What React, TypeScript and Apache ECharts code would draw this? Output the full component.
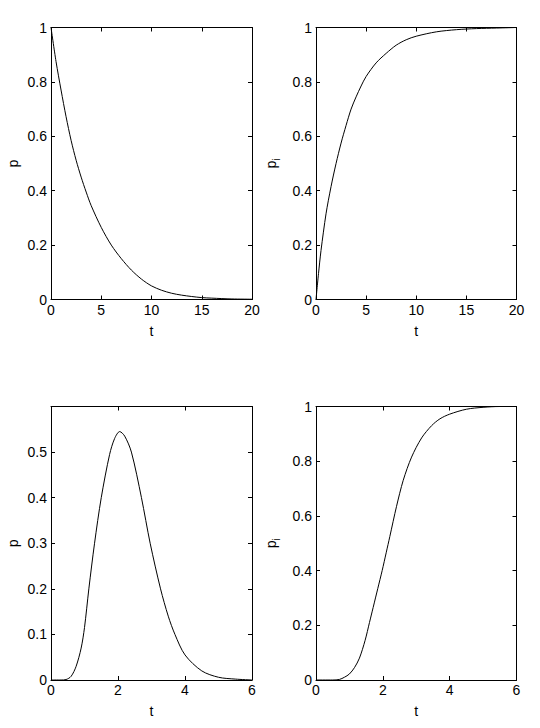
import React, { useEffect, useRef } from "react";
import * as echarts from "echarts";

// Top-left: p vs t (decay)
const TL_T = [0, 0.5, 1, 1.5, 2, 2.5, 3, 3.5, 4, 5, 6, 7, 8, 9, 10, 11, 12, 13, 14, 15, 16, 18, 20];
const TL_P = [1, 0.875, 0.77, 0.672, 0.585, 0.512, 0.45, 0.395, 0.345, 0.265, 0.2, 0.15, 0.108, 0.075, 0.05, 0.034, 0.023, 0.016, 0.011, 0.007, 0.005, 0.002, 0.001];

// Top-right: p_i vs t (rise)
const TR_T = [0, 0.25, 0.5, 1, 1.5, 2, 2.5, 3, 3.5, 4, 4.5, 5, 6, 7, 8, 9, 10, 12, 14, 16, 18, 20];
const TR_P = [0, 0.095, 0.18, 0.315, 0.415, 0.5, 0.575, 0.64, 0.7, 0.745, 0.785, 0.82, 0.87, 0.905, 0.935, 0.955, 0.968, 0.984, 0.992, 0.996, 0.998, 1];

// Bottom-left: p vs t (pulse)
const BL_T = [0, 0.3, 0.45, 0.6, 0.75, 0.9, 1.0, 1.13, 1.3, 1.5, 1.75, 1.9, 2.05, 2.2, 2.4, 2.7, 2.96, 3.27, 3.5, 3.7, 4.0, 4.5, 5.0, 5.5, 6];
const BL_P = [0, 0, 0.001, 0.008, 0.03, 0.07, 0.115, 0.2, 0.3, 0.4, 0.495, 0.53, 0.545, 0.535, 0.5, 0.4, 0.3, 0.2, 0.14, 0.1, 0.055, 0.02, 0.006, 0.002, 0];

// Bottom-right: p_i vs t (sigmoid)
const BR_T = [0, 0.5, 0.7, 0.85, 1.0, 1.15, 1.3, 1.47, 1.6, 1.71, 1.85, 1.98, 2.1, 2.21, 2.41, 2.61, 2.86, 3.16, 3.46, 3.71, 4, 4.5, 5, 5.5, 6];
const BR_P = [0, 0, 0.002, 0.01, 0.022, 0.045, 0.08, 0.145, 0.21, 0.265, 0.335, 0.4, 0.465, 0.525, 0.635, 0.73, 0.815, 0.885, 0.93, 0.955, 0.972, 0.99, 0.997, 1, 1];

const X_TOP = { min: 0, max: 20, interval: 5 };
const X_BOT = { min: 0, max: 6, interval: 2 };
const Y_UNIT = { min: 0, max: 1, interval: 0.2 };
const Y_PULSE = { min: 0, max: 0.6, interval: 0.1 };

const FONT = "'Liberation Sans', Arial, Helvetica, sans-serif";

const zip = (a: number[], b: number[]) => a.map((v, i) => [v, b[i]]);

export default function App() {
  const ref = useRef<HTMLDivElement>(null);
  useEffect(() => {
    if (!ref.current) return;
    const chart = echarts.init(ref.current, null, { renderer: "svg" });

    const grids = [
      { left: 51, top: 27.5, width: 201, height: 272 },
      { left: 316, top: 27.5, width: 200.5, height: 272 },
      { left: 51, top: 406.5, width: 201, height: 273.5 },
      { left: 316, top: 406.5, width: 200.5, height: 273.5 },
    ];
    const xr = [X_TOP, X_TOP, X_BOT, X_BOT];
    const yr = [Y_UNIT, Y_UNIT, Y_PULSE, Y_UNIT];
    const yNames = ["p", "{p|p}{i|i}", "p", "{p|p}{i|i}"];

    const line = { show: true, onZero: false, lineStyle: { color: "#000", width: 1 } };
    const tick = { show: true, inside: true, length: 4, lineStyle: { color: "#000", width: 1 } };
    const label = { color: "#000", fontSize: 14, fontFamily: FONT };

    const xAxis: any[] = [];
    const yAxis: any[] = [];
    for (let i = 0; i < 4; i++) {
      xAxis.push({
        type: "value", gridIndex: i, position: "bottom", ...xr[i],
        axisLine: line, axisTick: tick, splitLine: { show: false },
        axisLabel: { ...label, margin: 3 },
        name: "t", nameLocation: "middle", nameGap: 24,
        nameTextStyle: { color: "#000", fontSize: 14, fontFamily: FONT },
      });
    }
    for (let i = 0; i < 4; i++) {
      xAxis.push({
        type: "value", gridIndex: i, position: "top", ...xr[i],
        axisLine: line, axisTick: tick, splitLine: { show: false },
        axisLabel: { show: false },
      });
    }
    for (let i = 0; i < 4; i++) {
      yAxis.push({
        type: "value", gridIndex: i, position: "left", ...yr[i],
        axisLine: line, axisTick: tick, splitLine: { show: false },
        axisLabel: { ...label, margin: 4, showMaxLabel: i === 2 ? false : true },
        name: yNames[i], nameLocation: "middle", nameGap: i % 2 === 0 ? 31 : 35, nameRotate: 90,
        nameTextStyle: {
          color: "#000", fontSize: 14, fontFamily: FONT,
          rich: {
            p: { fontSize: 14, fontFamily: FONT, color: "#000" },
            i: { fontSize: 10, fontFamily: FONT, color: "#000", verticalAlign: "bottom", lineHeight: 20 },
          },
        },
      });
    }
    for (let i = 0; i < 4; i++) {
      yAxis.push({
        type: "value", gridIndex: i, position: "right", ...yr[i],
        axisLine: line, axisTick: tick, splitLine: { show: false },
        axisLabel: { show: false },
      });
    }

    const datasets = [zip(TL_T, TL_P), zip(TR_T, TR_P), zip(BL_T, BL_P), zip(BR_T, BR_P)];
    const series = datasets.map((d, i) => ({
      type: "line", xAxisIndex: i, yAxisIndex: i, data: d,
      showSymbol: false, smooth: 0.3,
      lineStyle: { color: "#000", width: 1 },
    }));

    chart.setOption({
      animation: false,
      backgroundColor: "#fff",
      grid: grids,
      xAxis, yAxis, series,
    });
    return () => chart.dispose();
  }, []);
  return <div ref={ref} style={{ position: "fixed", left: 0, top: 0, width: 540, height: 728 }} />;
}
